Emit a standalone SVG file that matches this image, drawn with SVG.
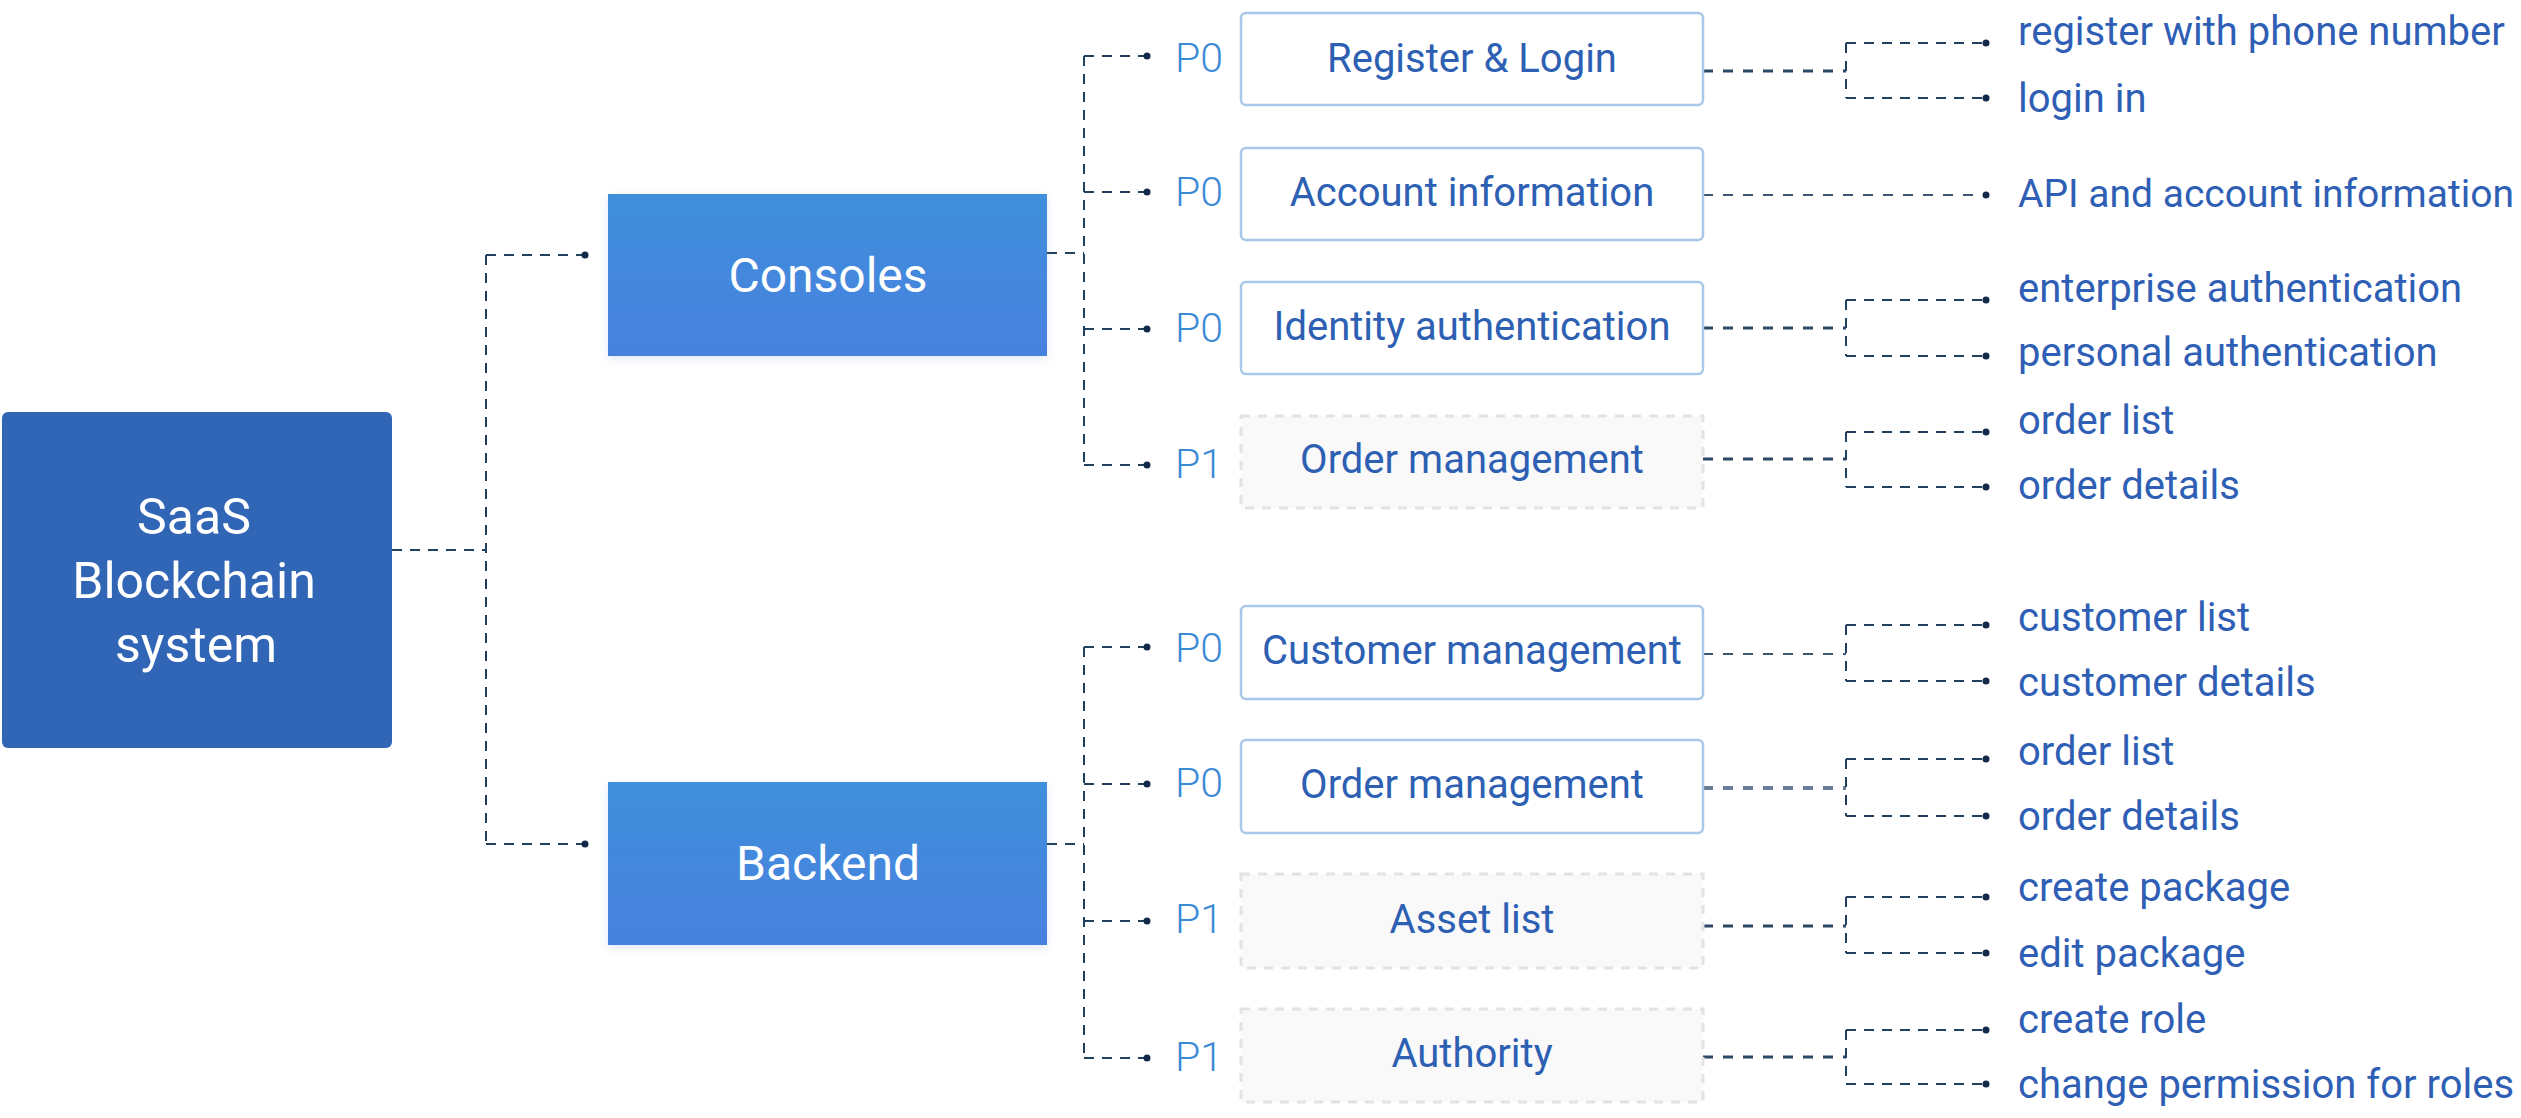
<svg xmlns="http://www.w3.org/2000/svg" width="2521" height="1118" viewBox="0 0 2521 1118">
<style>
text{font-family:Roboto,"Liberation Sans",sans-serif}
.root{fill:#3165b5}
.lvl1{fill:url(#g1)}
.wt{fill:#ffffff;text-anchor:middle}
.box{fill:#ffffff;stroke:#a9c8e9;stroke-width:2.5}
.box1{fill:#f9f9f9;stroke:#e3e3e3;stroke-width:3;stroke-dasharray:9 8}
.bt{fill:#2d5fb3;font-size:40px;text-anchor:middle}
.pl{fill:#3d8ad6;font-size:41px;font-weight:300}
.lt{fill:#2f5fb5;font-size:40px}
.c{fill:none;stroke:#22405f;stroke-width:2;stroke-dasharray:10 8}
.ct{fill:none;stroke:#2b4765;stroke-width:3.2;stroke-dasharray:10 10}
.cg{fill:none;stroke:#687e96;stroke-width:4;stroke-dasharray:10 10}
.cs{fill:none;stroke:#3c5572;stroke-width:2;stroke-dasharray:10 10}
.d{fill:#13294a}
</style>
<defs>
<linearGradient id="g1" x1="0" y1="0" x2="0" y2="1">
<stop offset="0" stop-color="#408fdb"/>
<stop offset="1" stop-color="#4781df"/>
</linearGradient>
<filter id="sh" x="-10%" y="-20%" width="120%" height="140%">
<feDropShadow dx="0" dy="3" stdDeviation="4" flood-color="#5a7fd0" flood-opacity="0.18"/>
</filter>
</defs>

<g id="connectors">
<path class="c" d="M392,550 H486 M486,255 V844 M486,255 H585 M486,844 H585"/>
<circle class="d" cx="585" cy="255" r="3.5"/>
<circle class="d" cx="585" cy="844" r="3.5"/>
<path class="c" d="M1047,253 H1084 M1084,56 V465 M1084,56 H1147 M1084,192 H1147 M1084,329 H1147 M1084,465 H1147"/>
<path class="c" d="M1047,844 H1084 M1084,647 V1058 M1084,647 H1147 M1084,784 H1147 M1084,921 H1147 M1084,1058 H1147"/>
<g class="d">
<circle cx="1147" cy="56" r="3.5"/><circle cx="1147" cy="192" r="3.5"/><circle cx="1147" cy="329" r="3.5"/><circle cx="1147" cy="465" r="3.5"/>
<circle cx="1147" cy="647" r="3.5"/><circle cx="1147" cy="784" r="3.5"/><circle cx="1147" cy="921" r="3.5"/><circle cx="1147" cy="1058" r="3.5"/>
</g>
<path class="ct" d="M1703,71 H1846 M1703,328 H1846 M1703,459 H1846 M1703,926 H1846 M1703,1057 H1846"/>
<path class="cg" d="M1703,788 H1846"/>
<path class="cs" d="M1703,195 H1986 M1703,654 H1846"/>
<path class="c" d="M1846,43 V98 M1846,43 H1986 M1846,98 H1986"/>
<path class="c" d="M1846,300 V356 M1846,300 H1986 M1846,356 H1986"/>
<path class="c" d="M1846,432 V487 M1846,432 H1986 M1846,487 H1986"/>
<path class="c" d="M1846,625 V681 M1846,625 H1986 M1846,681 H1986"/>
<path class="c" d="M1846,759 V816 M1846,759 H1986 M1846,816 H1986"/>
<path class="c" d="M1846,897 V953 M1846,897 H1986 M1846,953 H1986"/>
<path class="c" d="M1846,1030 V1084 M1846,1030 H1986 M1846,1084 H1986"/>
<g class="d">
<circle cx="1986" cy="43" r="3.5"/><circle cx="1986" cy="98" r="3.5"/><circle cx="1986" cy="195" r="3.5"/>
<circle cx="1986" cy="300" r="3.5"/><circle cx="1986" cy="356" r="3.5"/>
<circle cx="1986" cy="432" r="3.5"/><circle cx="1986" cy="487" r="3.5"/>
<circle cx="1986" cy="625" r="3.5"/><circle cx="1986" cy="681" r="3.5"/>
<circle cx="1986" cy="759" r="3.5"/><circle cx="1986" cy="816" r="3.5"/>
<circle cx="1986" cy="897" r="3.5"/><circle cx="1986" cy="953" r="3.5"/>
<circle cx="1986" cy="1030" r="3.5"/><circle cx="1986" cy="1084" r="3.5"/>
</g>
</g>

<g id="root">
<rect class="root" x="2" y="412" width="390" height="336" rx="6"/>
<text class="wt" font-size="50" x="194" y="534">SaaS</text>
<text class="wt" font-size="50" x="194" y="598">Blockchain</text>
<text class="wt" font-size="50" x="196" y="662">system</text>
</g>

<g id="consoles">
<rect class="lvl1" filter="url(#sh)" x="608" y="194" width="439" height="162"/>
<text class="wt" font-size="48" x="828" y="292">Consoles</text>
</g>
<g id="backend">
<rect class="lvl1" filter="url(#sh)" x="608" y="782" width="439" height="163"/>
<text class="wt" font-size="48" x="828" y="880">Backend</text>
</g>

<g id="register-login">
<text class="pl" x="1175" y="72">P0</text>
<rect class="box" x="1241" y="13" width="462" height="92" rx="5"/>
<text class="bt" x="1472" y="72">Register &amp; Login</text>
</g>
<g id="account-information">
<text class="pl" x="1175" y="206">P0</text>
<rect class="box" x="1241" y="148" width="462" height="92" rx="5"/>
<text class="bt" x="1472" y="206">Account information</text>
</g>
<g id="identity-authentication">
<text class="pl" x="1175" y="342">P0</text>
<rect class="box" x="1241" y="282" width="462" height="92" rx="5"/>
<text class="bt" x="1472" y="340">Identity authentication</text>
</g>
<g id="order-management-1">
<text class="pl" x="1175" y="478">P1</text>
<rect class="box1" x="1241" y="416" width="462" height="92"/>
<text class="bt" x="1472" y="473">Order management</text>
</g>
<g id="customer-management">
<text class="pl" x="1175" y="662">P0</text>
<rect class="box" x="1241" y="606" width="462" height="93" rx="5"/>
<text class="bt" x="1472" y="664">Customer management</text>
</g>
<g id="order-management-2">
<text class="pl" x="1175" y="797">P0</text>
<rect class="box" x="1241" y="740" width="462" height="93" rx="5"/>
<text class="bt" x="1472" y="798">Order management</text>
</g>
<g id="asset-list">
<text class="pl" x="1175" y="933">P1</text>
<rect class="box1" x="1241" y="874" width="462" height="94"/>
<text class="bt" x="1472" y="933">Asset list</text>
</g>
<g id="authority">
<text class="pl" x="1175" y="1071">P1</text>
<rect class="box1" x="1241" y="1009" width="462" height="93"/>
<text class="bt" x="1472" y="1067">Authority</text>
</g>

<g id="leaves">
<text class="lt" x="2018" y="45">register with phone number</text>
<text class="lt" x="2018" y="112">login in</text>
<text class="lt" x="2018" y="207" style="font-size:39px">API and account information</text>
<text class="lt" x="2018" y="302">enterprise authentication</text>
<text class="lt" x="2018" y="366">personal authentication</text>
<text class="lt" x="2018" y="434">order list</text>
<text class="lt" x="2018" y="499">order details</text>
<text class="lt" x="2018" y="631">customer list</text>
<text class="lt" x="2018" y="696">customer details</text>
<text class="lt" x="2018" y="765">order list</text>
<text class="lt" x="2018" y="830">order details</text>
<text class="lt" x="2018" y="901">create package</text>
<text class="lt" x="2018" y="967">edit package</text>
<text class="lt" x="2018" y="1033">create role</text>
<text class="lt" x="2018" y="1098">change permission for roles</text>
</g>
</svg>
